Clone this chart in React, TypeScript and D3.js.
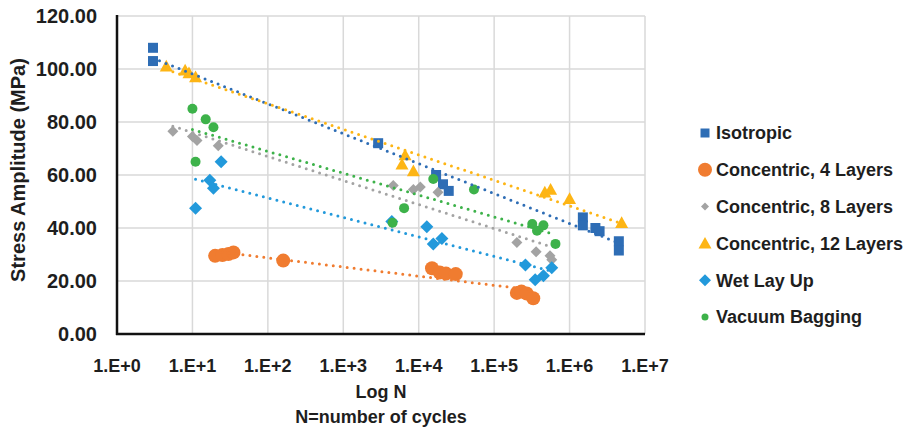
import React from "react";
import * as d3 from "d3";

type Pt = [number, number];

const seriesNames = [
  "Isotropic",
  "Concentric, 4 Layers",
  "Concentric, 8 Layers",
  "Concentric, 12 Layers",
  "Wet Lay Up",
  "Vacuum Bagging",
];

const isotropic: Pt[] = [
  [3, 108], [3, 103], [2900, 72], [17000, 60], [21000, 56.5], [25000, 54],
  [1.5e6, 44], [1.5e6, 41], [2.2e6, 40], [2.5e6, 38.8], [4.5e6, 35], [4.5e6, 31.5],
];
const concentric4: Pt[] = [
  [20, 29.5], [25, 29.8], [30, 30.2], [35, 30.8], [160, 27.7],
  [15000, 24.8], [19000, 23.2], [23000, 22.8], [31000, 22.6],
  [2.0e5, 15.5], [2.3e5, 16], [2.7e5, 15.3], [3.3e5, 13.5],
];
const concentric8: Pt[] = [
  [5.5, 76.5], [10, 74.5], [11.5, 73], [22, 71],
  [4600, 56], [8500, 54.5], [10500, 55.5], [18000, 53.5],
  [2.0e5, 34.5], [3.6e5, 31], [5.5e5, 29.5], [5.8e5, 28],
];
const concentric12: Pt[] = [
  [4.5, 101], [8, 99.5], [9, 98.5], [11, 97],
  [6000, 64], [6600, 67.5], [8500, 61.5],
  [4.7e5, 53.5], [5.6e5, 54.5], [1.0e6, 51], [4.9e6, 42],
];
const wetLayUp: Pt[] = [
  [11, 47.5], [17, 58], [19, 55], [24, 65],
  [4400, 42.5], [12800, 40.5], [15600, 34], [20300, 36],
  [2.6e5, 26], [3.5e5, 20.5], [4.5e5, 22], [5.8e5, 25],
];
const vacuumBagging: Pt[] = [
  [10, 85], [15, 81], [19, 78], [11, 65],
  [4500, 42], [6400, 47.5], [15600, 58.5], [54000, 54.5],
  [3.2e5, 41.5], [3.7e5, 39], [4.5e5, 41], [6.5e5, 34],
];

const xTicks = [1, 1e1, 1e2, 1e3, 1e4, 1e5, 1e6, 1e7];
const xTickLabels = ["1.E+0", "1.E+1", "1.E+2", "1.E+3", "1.E+4", "1.E+5", "1.E+6", "1.E+7"];
const yTicks = [0, 20, 40, 60, 80, 100, 120];

const allData = [isotropic, concentric4, concentric8, concentric12, wetLayUp, vacuumBagging];
const colors = ["#2E6DB5", "#F07C30", "#A3A3A3", "#FDB515", "#2299DB", "#3DB24A"];
const shapes = ["square", "circle", "diamond", "triangle", "diamond", "circle"];
const plotSizes = [10, 14, 11, 13, 13, 10];
const legendSizes = [9, 14, 8, 13, 12, 7];

const FONT = "'Liberation Sans', Arial, sans-serif";
const TEXT = "#1e1e1e";

function Marker({ shape, size, color, x, y }: { shape: string; size: number; color: string; x: number; y: number }) {
  const s = size;
  if (shape === "circle") return <circle cx={x} cy={y} r={s / 2} fill={color} />;
  let d = "";
  if (shape === "square") d = `M${-s / 2},${-s / 2}h${s}v${s}h${-s}Z`;
  else if (shape === "diamond") d = `M0,${-s / 2}L${s / 2},0L0,${s / 2}L${-s / 2},0Z`;
  else d = `M0,${-s * 0.5}L${s / 2},${s * 0.4}L${-s / 2},${s * 0.4}Z`;
  return <path d={d} transform={`translate(${x},${y})`} fill={color} />;
}

function fit(data: Pt[]) {
  const xs = data.map((d) => Math.log10(d[0]));
  const ys = data.map((d) => d[1]);
  const mx = d3.mean(xs)!;
  const my = d3.mean(ys)!;
  let num = 0, den = 0;
  xs.forEach((xv, i) => {
    num += (xv - mx) * (ys[i] - my);
    den += (xv - mx) * (xv - mx);
  });
  const b = num / den;
  const a = my - b * mx;
  const [n0, n1] = d3.extent(data, (d) => d[0]) as [number, number];
  return { a, b, n0, n1 };
}

export default function App() {
  const x = d3.scaleLog().domain([1, 1e7]).range([117, 645]);
  const y = d3.scaleLinear().domain([0, 120]).range([334, 16]);
  const line = d3.line<Pt>().x((d) => x(d[0])).y((d) => y(d[1]));

  return (
    <svg width={912} height={433} style={{ position: "absolute", left: 0, top: 0, background: "#fff" }}>
      {yTicks.filter((t) => t > 0).map((t) => (
        <line key={"gy" + t} x1={x(1)} x2={x(1e7)} y1={y(t)} y2={y(t)} stroke="#D9D9D9" strokeWidth={1.5} />
      ))}
      {xTicks.filter((t) => t > 1).map((t) => (
        <line key={"gx" + t} x1={x(t)} x2={x(t)} y1={y(0)} y2={y(120)} stroke="#D9D9D9" strokeWidth={1.5} />
      ))}
      <line x1={x(1)} x2={x(1)} y1={y(120) - 1} y2={y(0) + 1} stroke="#111" strokeWidth={2.5} />
      <line x1={x(1) - 1} x2={x(1e7)} y1={y(0)} y2={y(0)} stroke="#111" strokeWidth={2.5} />
      {yTicks.map((t) => (
        <text key={"yl" + t} x={97} y={y(t)} dy="0.36em" textAnchor="end" fontFamily={FONT} fontWeight="bold" fontSize={20} fill={TEXT}>
          {t.toFixed(2)}
        </text>
      ))}
      {xTicks.map((t, i) => (
        <text key={"xl" + t} x={x(t)} y={372} textAnchor="middle" fontFamily={FONT} fontWeight="bold" fontSize={18} fill={TEXT}>
          {xTickLabels[i]}
        </text>
      ))}
      <text x={381} y={398} textAnchor="middle" fontFamily={FONT} fontWeight="bold" fontSize={18} fill={TEXT}>Log N</text>
      <text x={381} y={423} textAnchor="middle" fontFamily={FONT} fontWeight="bold" fontSize={18} fill={TEXT}>N=number of cycles</text>
      <text transform="translate(25,170) rotate(-90)" textAnchor="middle" fontFamily={FONT} fontWeight="bold" fontSize={20} fill={TEXT}>
        Stress Amplitude (MPa)
      </text>
      {allData.map((data, si) =>
        data.map((d, i) => (
          <Marker key={si + "-" + i} shape={shapes[si]} size={plotSizes[si]} color={colors[si]} x={x(d[0])} y={y(d[1])} />
        ))
      )}
      {allData.map((data, si) => {
        const f = fit(data);
        const pts: Pt[] = [
          [f.n0, f.a + f.b * Math.log10(f.n0)],
          [f.n1, f.a + f.b * Math.log10(f.n1)],
        ];
        return (
          <path key={"t" + si} d={line(pts)!} stroke={colors[si]} strokeWidth={3} strokeDasharray="0 7" strokeLinecap="round" fill="none" />
        );
      })}
      {seriesNames.map((name, i) => {
        const ly = 133 + i * 36.8;
        return (
          <g key={"lg" + i}>
            <Marker shape={shapes[i]} size={legendSizes[i]} color={colors[i]} x={705} y={ly} />
            <text x={716} y={ly} dy="0.36em" fontFamily={FONT} fontWeight="bold" fontSize={18} fill={TEXT}>
              {name}
            </text>
          </g>
        );
      })}
    </svg>
  );
}
